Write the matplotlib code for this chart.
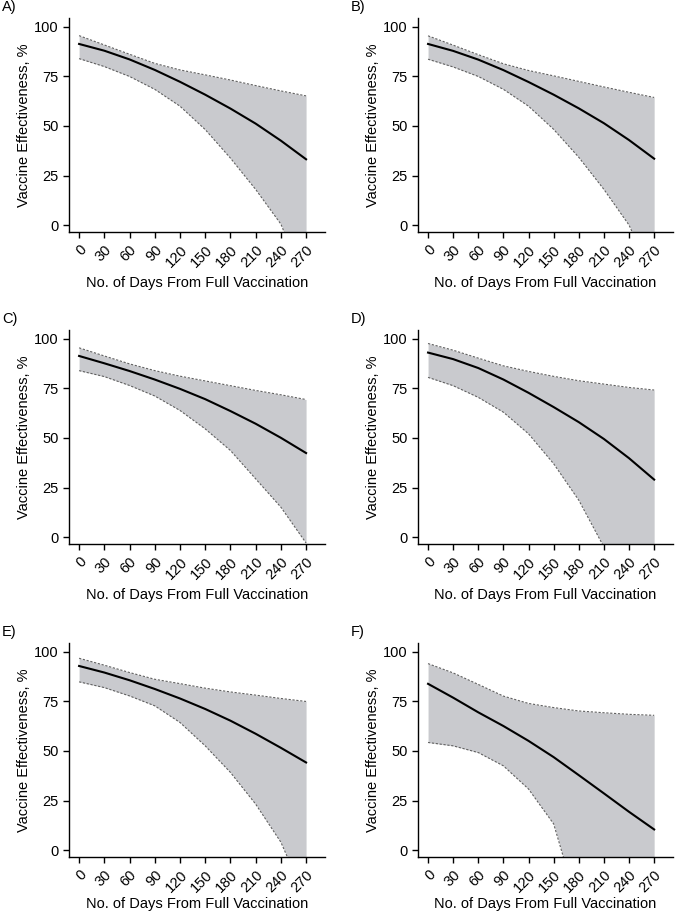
import numpy as np
import matplotlib.pyplot as plt

plt.rcParams['font.family'] = ['Liberation Sans', 'DejaVu Sans']

days = [0, 30, 60, 90, 120, 150, 180, 210, 240, 270]
panel_labels = ['A)', 'B)', 'C)', 'D)', 'E)', 'F)']

# point estimates (%)
ve_a = [91.4, 88.0, 83.6, 78.3, 72.3, 65.8, 58.8, 51.2, 42.6, 33.2]
ve_b = [91.4, 87.9, 83.5, 78.2, 72.2, 65.8, 58.9, 51.4, 42.9, 33.5]
ve_c = [91.4, 87.7, 83.8, 79.5, 74.8, 69.6, 63.6, 57.2, 50.1, 42.4]
ve_d = [93.1, 89.8, 85.3, 79.5, 72.8, 65.6, 58.0, 49.5, 39.8, 29.0]
ve_e = [92.9, 89.6, 85.7, 81.3, 76.5, 71.2, 65.3, 58.7, 51.6, 44.2]
ve_f = [83.9, 76.9, 69.5, 62.6, 55.1, 46.9, 37.8, 28.6, 19.3, 10.4]

# upper confidence limits
up_a = [95.6, 90.9, 86.2, 81.6, 78.3, 75.8, 73.2, 70.4, 67.7, 65.2]
up_b = [95.5, 90.8, 86.0, 81.4, 78.0, 75.3, 72.5, 69.7, 67.0, 64.4]
up_c = [95.5, 91.4, 87.4, 84.0, 81.2, 78.8, 76.4, 74.0, 71.8, 69.4]
up_d = [97.7, 94.3, 90.3, 86.4, 83.6, 81.1, 78.9, 77.2, 75.5, 74.2]
up_e = [96.8, 93.3, 89.6, 86.2, 84.0, 81.7, 79.8, 78.2, 76.5, 75.0]
up_f = [94.1, 89.4, 83.6, 77.7, 74.0, 71.9, 70.2, 69.3, 68.5, 68.0]

# lower confidence limits
lo_a = [84.0, 80.0, 75.0, 68.5, 60.0, 48.2, 33.8, 18.0, 0.5, -30.0]
lo_b = [83.7, 79.8, 75.0, 68.5, 60.0, 48.3, 34.2, 18.0, 0.0, -28.0]
lo_c = [84.0, 81.0, 76.5, 71.2, 63.9, 54.6, 43.7, 29.4, 15.1, -3.0]
lo_d = [80.6, 76.4, 70.5, 63.0, 52.1, 37.0, 18.6, -5.0, -45.0, -90.0]
lo_e = [84.9, 82.0, 77.8, 72.8, 64.4, 52.6, 39.2, 23.2, 4.0, -25.0]
lo_f = [54.3, 52.6, 49.2, 42.5, 30.8, 13.2, -30.0, -75.0, -125.0, -180.0]

estimates = [ve_a, ve_b, ve_c, ve_d, ve_e, ve_f]
uppers = [up_a, up_b, up_c, up_d, up_e, up_f]
lowers = [lo_a, lo_b, lo_c, lo_d, lo_e, lo_f]

fig = plt.figure(figsize=(6.75, 9.14), dpi=100)

lefts = [69 / 675, 418 / 675]
widths = [256 / 675, 255 / 675]
bottoms = [1 - 232 / 914, 1 - 544 / 914, 1 - 857 / 914]
height = 214 / 914
xlabel_pads = [4.5, 4.5, 2]

for i in range(6):
    row, col = divmod(i, 2)
    ax = fig.add_axes([lefts[col], bottoms[row], widths[col], height])
    ax.fill_between(days, lowers[i], uppers[i], color='#c9cace', lw=0)
    ax.plot(days, uppers[i], color='#606060', lw=0.8, dashes=(2, 1.5))
    ax.plot(days, lowers[i], color='#606060', lw=0.8, dashes=(2, 1.5))
    ax.plot(days, estimates[i], color='black', lw=1.5)

    ax.set_xlim(-12, 292.5)
    ax.set_ylim(-3.5, 104.5)
    ax.set_xticks(days)
    ax.set_xticklabels([str(d) for d in days], rotation=45, ha='right',
                       rotation_mode='anchor')
    ax.set_yticks([0, 25, 50, 75, 100])
    ax.tick_params(labelsize=10.5, length=4, width=1, colors='black')
    for s in ['top', 'right']:
        ax.spines[s].set_visible(False)
    for s in ['left', 'bottom']:
        ax.spines[s].set_linewidth(1)
    ax.set_ylabel('Vaccine Effectiveness, %', fontsize=10.5, labelpad=2)
    ax.set_xlabel('No. of Days From Full Vaccination', fontsize=10.5,
                  labelpad=xlabel_pads[row])
    ax.text(-0.262 if col == 0 else -0.265, 1.02, panel_labels[i],
            transform=ax.transAxes, fontsize=10.5, va='bottom', ha='left')

fig.savefig('out.png', dpi=100)
